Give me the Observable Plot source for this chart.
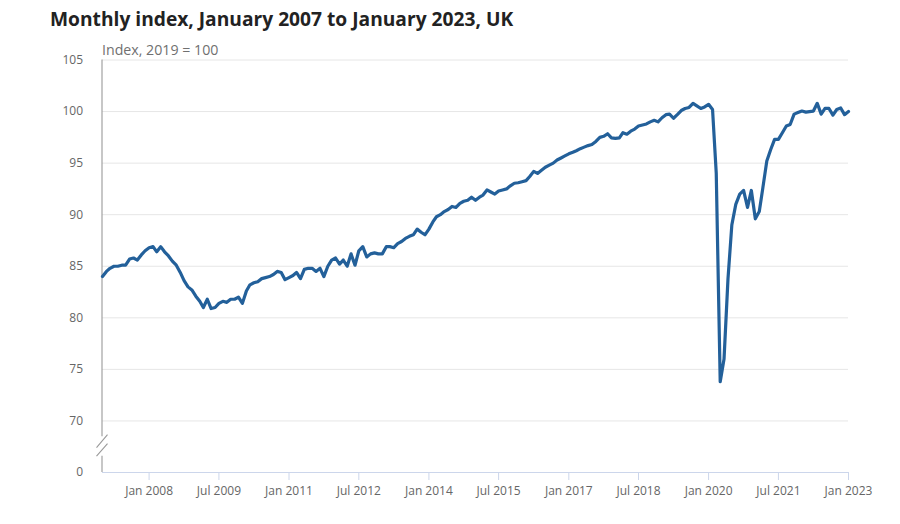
<!DOCTYPE html>
<html>
<head>
<meta charset="utf-8">
<script src="https://cdn.jsdelivr.net/npm/d3@7"></script>
<script src="https://cdn.jsdelivr.net/npm/@observablehq/plot@0.6"></script>
<style>
  html, body { margin: 0; padding: 0; background: #fff; }
  body { width: 900px; height: 524px; position: relative; overflow: hidden; font-family: "Open Sans", sans-serif; }
  #title { position: absolute; left: 50px; top: 9px; font-size: 19.2px; line-height: 1; font-weight: 700; color: #222; white-space: nowrap; z-index: 2; }
  #sub { position: absolute; left: 102px; top: 42.5px; font-size: 14.2px; line-height: 1; color: #707070; white-space: nowrap; z-index: 2; }
  #chart { position: absolute; left: 0; top: 38px; z-index: 1; }
</style>
</head>
<body>
<div id="title">Monthly index, January 2007 to January 2023, UK</div>
<div id="sub">Index, 2019 = 100</div>
<div id="chart"></div>
<script>
// Monthly GDP index (2019 = 100), January 2007 to January 2023
const startYear = 2007;
const gdpIndex = [
  // 2007
  84.0, 84.5, 84.8, 85.0, 85.0, 85.1, 85.1, 85.7, 85.8, 85.6, 86.1, 86.5,
  // 2008
  86.8, 86.9, 86.4, 86.9, 86.4, 86.0, 85.5, 85.1, 84.4, 83.6, 83.0, 82.7,
  // 2009
  82.1, 81.6, 81.0, 81.8, 80.9, 81.0, 81.4, 81.6, 81.5, 81.8, 81.8, 82.0,
  // 2010
  81.4, 82.6, 83.2, 83.4, 83.5, 83.8, 83.9, 84.0, 84.2, 84.5, 84.4, 83.7,
  // 2011
  83.9, 84.1, 84.4, 83.8, 84.7, 84.8, 84.8, 84.5, 84.8, 84.0, 85.0, 85.6,
  // 2012
  85.8, 85.2, 85.6, 85.0, 86.2, 85.1, 86.5, 86.9, 85.9, 86.2, 86.3, 86.2,
  // 2013
  86.2, 86.9, 86.9, 86.8, 87.2, 87.4, 87.7, 87.9, 88.05, 88.6, 88.3, 88.05,
  // 2014
  88.6, 89.3, 89.8, 90.0, 90.3, 90.5, 90.8, 90.7, 91.1, 91.3, 91.4, 91.7,
  // 2015
  91.4, 91.7, 91.9, 92.4, 92.2, 92.0, 92.3, 92.4, 92.5, 92.8, 93.05, 93.1,
  // 2016
  93.2, 93.3, 93.7, 94.2, 94.0, 94.3, 94.6, 94.8, 95.0, 95.3, 95.5, 95.7,
  // 2017
  95.9, 96.05, 96.2, 96.4, 96.55, 96.7, 96.8, 97.1, 97.5, 97.6, 97.85, 97.45,
  // 2018
  97.4, 97.45, 97.95, 97.8, 98.1, 98.3, 98.6, 98.7, 98.8, 99.0, 99.15, 99.0,
  // 2019
  99.4, 99.7, 99.75, 99.35, 99.7, 100.1, 100.3, 100.4, 100.8, 100.55, 100.3, 100.45,
  // 2020
  100.7, 100.2, 94.0, 73.8, 76.0, 83.8, 89.0, 91.0, 92.0, 92.35, 90.7, 92.35,
  // 2021
  89.6, 90.3, 92.6, 95.2, 96.3, 97.3, 97.3, 97.95, 98.6, 98.75, 99.75, 99.9,
  // 2022
  100.05, 99.95, 100.0, 100.05, 100.8, 99.75, 100.3, 100.3, 99.65, 100.2, 100.35, 99.7,
  // 2023
  100.0
];
const xTickLabels = ["Jan 2008", "Jul 2009", "Jan 2011", "Jul 2012", "Jan 2014", "Jul 2015",
                     "Jan 2017", "Jul 2018", "Jan 2020", "Jul 2021", "Jan 2023"];
const yTicks = [65, 70, 75, 80, 85, 90, 95, 100, 105];
const yTickLabels = ["0", "70", "75", "80", "85", "90", "95", "100", "105"];
const yGridTicks = yTicks.slice(1);

const parseTick = d3.utcParse("%b %Y");
const xTicks = xTickLabels.map(parseTick);
const data = gdpIndex.map((v, i) => ({ date: new Date(Date.UTC(startYear, i, 1)), value: v }));
const xDomain = [data[0].date, data[data.length - 1].date];

function axisWithBreak(index, scales, values, dimensions) {
  const x0 = scales.x(xDomain[0]);
  const yTop = scales.y(d3.max(yTicks));
  const yBot = scales.y(d3.min(yTicks));
  const mid = (scales.y(yTicks[1]) + yBot) / 2;
  const g = d3.create("svg:g").attr("fill", "none").attr("stroke", "#9a9a9a").attr("stroke-width", 1.1);
  g.append("path").attr("d", `M${x0},${yTop}V${mid - 10}M${x0},${mid + 9.5}V${yBot}`);
  g.append("path").attr("d",
    `M${x0 - 5.5},${mid + 1.5}L${x0 + 5.5},${mid - 11.5}M${x0 - 5.5},${mid + 10}L${x0 + 5.5},${mid - 2.5}`);
  return g.node();
}

const chart = Plot.plot({
  width: 900,
  height: 486,
  marginTop: 21.5,
  marginBottom: 52,
  marginLeft: 102,
  marginRight: 52,
  style: { fontFamily: "'Open Sans', sans-serif", fontSize: "12px", background: "transparent", overflow: "visible" },
  x: { type: "utc", domain: xDomain },
  y: { domain: [d3.min(yTicks), d3.max(yTicks)] },
  marks: [
    Plot.gridY(yGridTicks, { stroke: "#e6e6e6", strokeOpacity: 1 }),
    Plot.ruleY([d3.min(yTicks)], { stroke: "#ccd6eb", strokeWidth: 1 }),
    Plot.axisY({
      ticks: yTicks,
      tickFormat: (d) => yTickLabels[yTicks.indexOf(d)],
      tickSize: 0,
      tickPadding: 19.5,
      fill: "#666",
      label: null
    }),
    Plot.axisX({
      ticks: xTicks,
      tickFormat: (d) => xTickLabels[xTicks.findIndex((t) => +t === +d)],
      tickSize: 8,
      tickPadding: 6,
      stroke: "#ccd6eb",
      fill: "#666",
      label: null
    }),
    axisWithBreak,
    Plot.line(data, {
      x: "date",
      y: "value",
      stroke: "#23609a",
      strokeWidth: 3.2,
      strokeLinejoin: "round",
      strokeLinecap: "round"
    })
  ]
});
document.getElementById("chart").appendChild(chart);
</script>
</body>
</html>
